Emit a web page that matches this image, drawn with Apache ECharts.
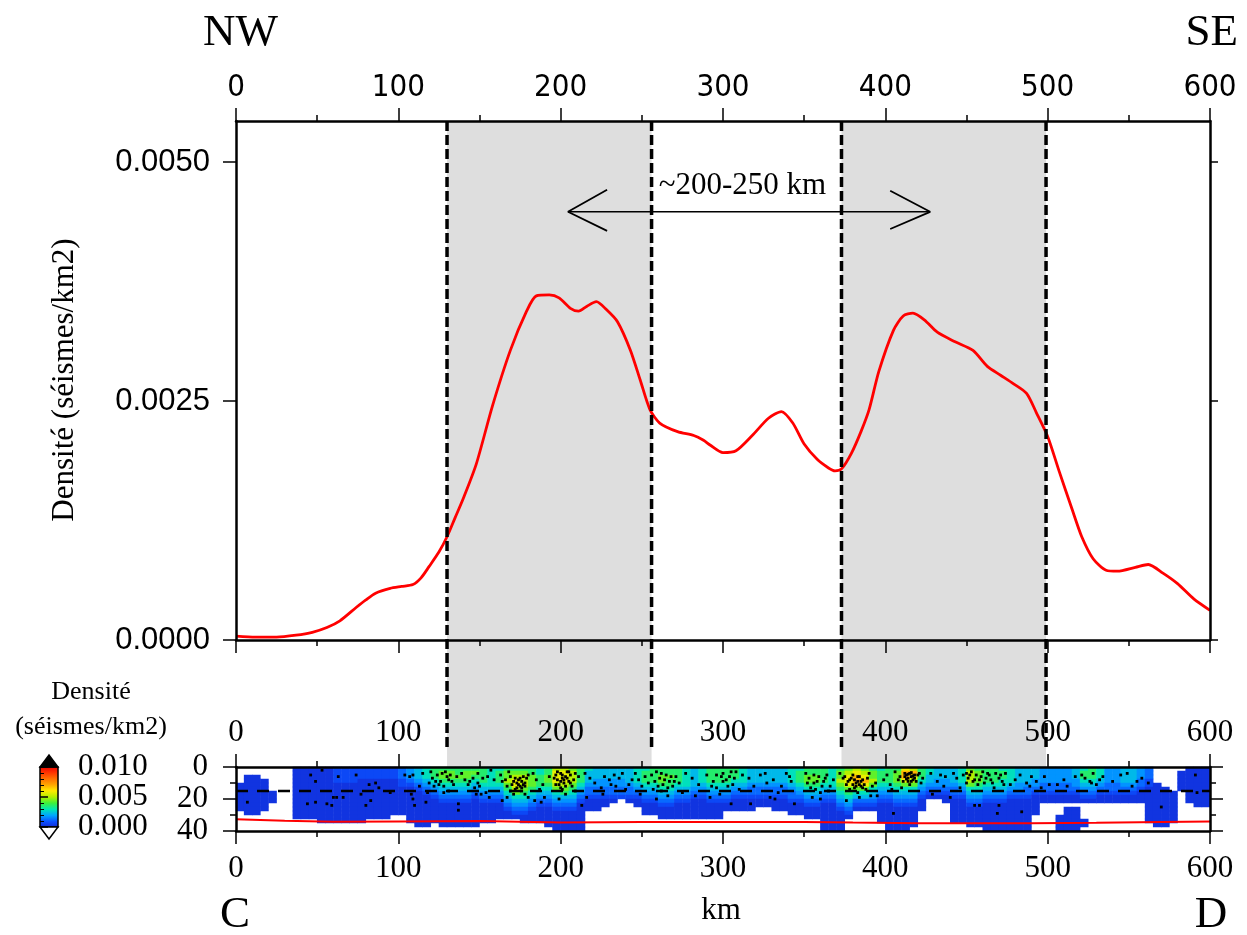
<!DOCTYPE html>
<html><head><meta charset="utf-8">
<script src="https://cdn.jsdelivr.net/npm/echarts@6/dist/echarts.min.js"></script>
<style>html,body{margin:0;padding:0;background:#fff}#c{width:1247px;height:935px}</style>
</head><body><div id="c"></div>
<script>
// ---------------- DATA ----------------
const DIST_KM = [0,12,25,37,47,56,64,74,80,86,95,102,109,114,119,125,130,135,140,148,158,169,179,185,193,199,206,211,216,222,228,235,243,249,255,261,272,282,288,292,300,308,318,328,336,343,350,358,365,369,373,379,385,390,396,405,411,417,424,432,443,454,463,471,479,487,493,500,507,515,521,528,536,543,554,562,571,580,590,600];
const DENSITY = [0.00004,0.00003,0.00003,0.00005,0.00008,0.00013,0.0002,0.00034,0.00042,0.00049,0.00054,0.00056,0.00058,0.00065,0.00077,0.00092,0.00108,0.00128,0.00148,0.00184,0.00245,0.00303,0.00344,0.0036,0.00361,0.00358,0.00347,0.00344,0.00349,0.00354,0.00346,0.00333,0.00303,0.00272,0.00241,0.00227,0.00218,0.00214,0.00209,0.00204,0.00196,0.00198,0.00214,0.00232,0.00239,0.00227,0.00205,0.00189,0.0018,0.00177,0.00179,0.00195,0.00218,0.00241,0.00281,0.00324,0.00339,0.00342,0.00335,0.00322,0.00312,0.00303,0.00286,0.00277,0.00268,0.00258,0.00238,0.00213,0.00177,0.00137,0.00108,0.00085,0.00073,0.00072,0.00076,0.00079,0.0007,0.00059,0.00043,0.00031];
const X_TICKS = [0,100,200,300,400,500,600];
const Y_TICKS = [0,0.0025,0.005];
const DEPTH_TICKS = [0,20,40];
const BANDS = [[130,256],[373,499]];
const BAND_EDGES = [130,256,373,499];
const ARROW_SHAFT = [[204.5,0.00448],[427.6,0.00448]];
const ARROW_LEFT_HEAD = [[228.6,0.00471],[204.5,0.00448],[228.6,0.00428]];
const ARROW_RIGHT_HEAD = [[403,0.0047],[427.6,0.00448],[403,0.0043]];
const ARROW_LABEL = [[312,0.00475,'~200-250 km']];
const MOHO_KM = [0,30,60,100,150,200,250,300,350,380,420,450,490,530,570,600];
const MOHO_DEPTH = [32.6,33.6,34.2,34.0,33.8,34.7,34.3,34.3,34.3,34.7,35.1,35.1,35.1,34.9,34.3,34.0];
const MID_LINE = [[0,15],[600,15]];
const EQ_POINTS = [
[46,5],[49,9],[53,2],[63,6],[74,5],[82,11],[86,10],[88,13],[95,16],[7,22],[44,23],[49,22],[56,23],[60,19],[62,19],[66,19],[59,24],[80,24],[83,21],[77,17],[104,5],[107,6],[109,5],[113,12],[115,4],[119,10],[121,7],[122,12],[124,5],[126,9],[127,4],[128,12],[130,6],[131,15],[132,5],[133,9],[128,16],[118,16],[109,20],[110,24],[117,22],[137,23],[137,27],[143,11],[144,9],[146,7],[147,13],[149,10],[148,17],[108,17],
[149,4],[152,7],[155,6],[150,12],[154,16],[157,2],[159,8],[156,19],[151,17],
[163,5],[166,8],[168,3],[170,11],[172,7],[173,10],[175,12],[176,9],[177,11],[178,10],[179,7],[173,13],[176,15],[171,17],[167,19],[164,21],[178,17],[180,5],[180,19],
[183,4],[185,8],[187,14],[189,11],[190,19],[193,6],[184,21],[188,22],
[197,5],[198,8],[199,11],[200,4],[201,7],[202,10],[203,6],[204,3],[205,9],[206,5],[207,12],[201,14],[203,17],[199,20],[209,4],[208,8],
[211,6],[215,4],[218,7],[221,10],[225,13],[230,8],[233,5],[236,7],[240,14],[213,24],[226,17],[242,11],[209,15],[216,19],[234,12],
[246,4],[248,8],[250,12],[252,6],[254,10],[257,14],[259,3],[261,7],[263,11],[265,5],[267,9],[269,12],[271,6],[273,10],[275,16],[259,20],[266,18],[249,17],[277,4],
[281,7],[285,11],[290,5],[294,9],[296,13],[298,17],[292,19],[283,18],[299,6],
[300,4],[302,8],[304,6],[306,11],[308,3],[310,14],[305,23],
[312,5],[316,7],[319,12],[323,5],[327,10],[329,19],[332,20],[334,16],[339,4],[342,9],[344,23],[317,23],
[351,4],[353,7],[356,10],[357,14],[359,6],[360,16],[362,9],[364,5],[366,12],[368,8],[355,19],[360,20],
[372,4],[374,7],[376,11],[378,8],[380,5],[381,13],[382,10],[383,16],[384,6],[385,12],[386,8],[388,14],[390,4],[391,18],[394,10],[395,18],[376,21],[384,19],[382,12],[384,11],[386,13],[383,9],[380,11],
[399,8],[401,5],[403,11],[404,14],[406,3],[409,6],[412,4],[413,5],[414,7],[415,4],[416,6],[417,8],[418,5],[419,9],[421,4],[423,7],[405,29],[415,11],[410,13],[414,4.5],[416,3.5],[417,5.5],[413,7.5],
[428,4],[434,5],[437,6],[442,4],[446,13],[450,10],[429,17],[440,19],
[450,4],[451,7],[453,3],[454,9],[456,5],[458,8],[460,3],[462,7],[464,5],[466,10],[468,4],[470,7],[472,9],[474,4],[455,24],[458,24],[469,29],[470,24],
[477,11],[484,28],[487,10],[489,12],[490,6],
[521,5],[523,7],[526,9],[528,4],[530,11],[532,8],[527,10],
[545,5],[549,4],[555,9],[552,12],
[498,6],[501,11],[506,11],[510,8],[512,12],[570,25],[591,5],[592,16],
[120,3],[123,9],[125,11],[129,3],[131,8],[134,11],[136,6],[139,4],[141,8],
[164,9],[167,12],[169,6],[171,9],[174,8],[174,11],[175,7],[176,13],[177,6],[178,12],[172,14],[169,15],
[196,7],[198,3],[200,9],[201,5],[202,8],[203,12],[204,7],[205,3],[206,10],[200,13],[197,11],
[256,5],[258,9],[260,12],[262,4],[264,8],[266,13],[268,6],[270,9],[262,15],
[352,10],[354,13],[356,5],[358,9],[361,12],[363,7],[365,15],
[375,6],[377,9],[379,7],[381,8],[383,6],[385,9],[387,11],[389,7],[392,12],[378,14],
[408,8],[411,9],[412,6],[414,9],[416,9],[418,7],[420,5],[422,10],
[452,5],[455,8],[457,11],[459,6],[461,10],[463,4],[465,8],[467,13],[471,5],[473,11],
[300,9],[303,12],[305,3],[307,7],[296,5],[293,12],
[227,6],[238,4],[244,8],[231,11],
[326,4],[331,8],[336,12],[341,6],
[432,9],[436,12],[444,7],[448,5],
[480,8],[483,5],[493,9],[496,13],[517,6],[534,6],[540,9],[558,7],[562,10]
];
// density grid: one string per 5 km column, one character per 2.5 km depth row ('.' = no data)
const CELL_KM = 5;
const CELL_DEPTH = 2.5;
const LEVEL_CHARS = '0123456789a';
const LEVEL_VALUES = [0.0003,0.0008,0.0013,0.0018,0.0023,0.0029,0.0036,0.0043,0.0050,0.0057,0.0068];
const DENSITY_COLUMNS = [
"....0000000.....","..0000000000....","..0000000000....","...00000000.....","......000.......",
"................","................","0000000000000...","0000000000000...","0000000000000...",
"00000000000000..","00000000000000..","11110000000000..","11110000000000..","11110000000000..",
"11100000000000..","1110000000000...","1110000000000...","1110000000000...","111000000000....",
"222110000000....","33321000000000..","444321000000000.","555432100000000.","66654321000000..",
"677654321000000.","677654321000000.","667654321000000.","677654321000000.","676543210000000.",
"66665432100000..","55555432100000..","5666543210000...","6778765432100...","6789987543210...",
"67888765432100..","66777654321000..","55666543210000..","667765432100000.","8999875432100000",
"8999876432100000","7888765432100000","6666543210000000","54443221000.....","44433221000.....",
"4443322100......","444332210.......","44433221........","444432210.......","5555432100......",
"566654321000....","666654321000....","6677654321000...","6676654321000...","6666543210000...",
"5555543210000...","4444432100000...","5555432100000...","6666543210000...","6666543210000...",
"66665432100.....","66654321000.....","55554321000.....","44443221000.....","4444322100......",
"4444322100......","44443221000.....","44443221000.....","555543221000....","566654321000....",
"6677654321000...","6677654321000...","6666543210000000","5555543210000000","6778765432100000",
"7899976543210...","89aa9754210.....","789a9754210.....","67787543210.....","56665432100000..",
"6666543210000000","6777654321000000","9aa9754321000000","8a9875432100000.","66654321000.....",
"55443210........","44433210........","444332100.......","44443221000000..","55554321000000..",
"788875432100000.","677765432100000.","6666543210000000","6666543210000000","5665543210000000",
"5555432100000000","4444332100000000","4444322100000000","444332100000....","333322100.......",
"333322100.......","333322100...0000","333322100.000000","444332100.000000","566543210....00.",
"666543210.......","555432100.......","333322100.......","333322100.......","444432100.......",
"444432100.......","333221000.......","22211000000000..","....00000000000.",".....0000000000.",
"......00000000..",".00000..........","000000000.......","0000000000......","0000000000......"
];
const COLOR_STOPS = [[0,'#1428d2'],[0.001,'#0a50ff'],[0.002,'#00a5ff'],[0.003,'#00e6b4'],[0.004,'#3cf03c'],[0.005,'#b4f000'],[0.006,'#ffeb00'],[0.007,'#ffa500'],[0.008,'#ff6e00'],[0.009,'#ff3200'],[0.010,'#eb0000']];
const CBAR_TICKS = [0,0.005,0.01];
const CBAR_END_LABELS = [0,0.01];
const CBAR_MID_LABELS = [0.005];

// ---------------- BUILD ----------------
const SERIF = '"Liberation Serif","Times New Roman",serif';
const SANS = '"Liberation Sans",Arial,sans-serif';
const NARROW = '"Liberation Sans Narrow","DejaVu Sans Condensed","Liberation Sans",sans-serif';

const curve = DIST_KM.map((k,i)=>[k,DENSITY[i]]);
const moho = MOHO_KM.map((k,i)=>[k,MOHO_DEPTH[i]]);
const heatData = [];
DENSITY_COLUMNS.forEach((col,i)=>{
  for (let r=0;r<col.length;r++){
    const ch = col[r];
    if (ch==='.') continue;
    heatData.push([i,r,LEVEL_VALUES[LEVEL_CHARS.indexOf(ch)]]);
  }
});
const colCats = DENSITY_COLUMNS.map((c,i)=>String(i*CELL_KM+CELL_KM/2));
const rowCats = Array.from({length:16},(_,r)=>String(r*CELL_DEPTH+CELL_DEPTH/2));

const LINE = {color:'#000',width:2.5};
const TICK = {color:'#000',width:1.5};
function axis(o){
  return Object.assign({
    type:'value', min:0, max:600, interval:100, z:5,
    axisLine:{show:true,onZero:false,lineStyle:LINE},
    axisTick:{show:true,length:13,lineStyle:TICK},
    minorTick:{show:true,splitNumber:2,length:6,lineStyle:TICK},
    splitLine:{show:false}, minorSplitLine:{show:false},
    axisLabel:{show:false}
  }, o);
}
const CBAR_LABEL = {show:true, margin:20, fontSize:31, lineHeight:20, fontFamily:SERIF, color:'#000',
  showMinLabel:true, showMaxLabel:true, formatter:v=>v.toFixed(3)};

const chart = echarts.init(document.getElementById('c'), null, {renderer:'canvas'});
chart.setOption({
  animation:false,
  backgroundColor:'#fff',
  grid:[
    {left:236, top:121, width:974, height:519},
    {left:236, top:767, width:974, height:64},
    {left:236, top:121, width:974, height:646},
    {left:236, top:767, width:974, height:64},
    {left:40, top:767, width:18, height:60}
  ],
  xAxis:[
    axis({gridIndex:0, position:'top', axisLabel:{show:true, margin:18, fontSize:31, fontFamily:NARROW, color:'#000'}}),
    axis({gridIndex:0, position:'bottom'}),
    axis({gridIndex:1, position:'top', axisLabel:{show:true, margin:19, fontSize:31, fontFamily:SERIF, color:'#000'}}),
    axis({gridIndex:1, position:'bottom', axisLabel:{show:true, margin:22, fontSize:31, fontFamily:SERIF, color:'#000'}}),
    {gridIndex:2, type:'value', min:0, max:600, show:false},
    {gridIndex:3, type:'category', data:colCats, show:false},
    {gridIndex:4, type:'value', min:0, max:1, show:false}
  ],
  yAxis:[
    axis({gridIndex:0, position:'left', min:0, max:0.00543, interval:0.0025,
      minorTick:{show:false},
      axisTick:{show:true,length:13,lineStyle:TICK,customValues:Y_TICKS},
      axisLabel:{show:true, margin:26, fontSize:31, fontFamily:SANS, color:'#000', customValues:Y_TICKS, formatter:v=>v.toFixed(4)}}),
    axis({gridIndex:0, position:'right', min:0, max:0.00543, interval:0.0025,
      minorTick:{show:false},
      axisTick:{show:true,length:8,lineStyle:TICK,customValues:Y_TICKS}}),
    axis({gridIndex:1, position:'left', min:0, max:40, interval:20, inverse:true,
      axisLabel:{show:true, margin:28, fontSize:31, lineHeight:20, fontFamily:SERIF, color:'#000', customValues:DEPTH_TICKS,
        showMinLabel:true, showMaxLabel:true}}),
    axis({gridIndex:1, position:'right', min:0, max:40, interval:20, inverse:true}),
    {gridIndex:2, type:'value', min:0, max:1, show:false},
    {gridIndex:3, type:'category', data:rowCats, inverse:true, show:false},
    axis({gridIndex:4, position:'right', min:0, max:0.01, interval:0.005,
      axisLine:{show:false},
      axisTick:{show:true,length:8,lineStyle:TICK,customValues:CBAR_TICKS},
      minorTick:{show:true,splitNumber:5,length:4,lineStyle:{color:'#000',width:1}},
      axisLabel:Object.assign({customValues:CBAR_END_LABELS}, CBAR_LABEL)}),
    axis({gridIndex:4, position:'right', min:0, max:0.01, interval:0.005,
      axisLine:{show:false}, axisTick:{show:false}, minorTick:{show:false},
      axisLabel:Object.assign({customValues:CBAR_MID_LABELS}, CBAR_LABEL)})
  ],
  visualMap:[{type:'continuous', show:false, min:0, max:0.01, seriesIndex:7,
    inRange:{color:COLOR_STOPS.map(s=>s[1])}}],
  series:[
    {type:'line', xAxisIndex:0, yAxisIndex:0, data:curve, smooth:0.25, symbol:'none', z:3,
      lineStyle:{color:'#ff0000', width:2.8}},
    {type:'line', xAxisIndex:0, yAxisIndex:0, data:ARROW_SHAFT, symbol:'none', z:3,
      lineStyle:{color:'#000', width:1.5}},
    {type:'line', xAxisIndex:0, yAxisIndex:0, data:ARROW_LEFT_HEAD, symbol:'none', z:3,
      lineStyle:{color:'#000', width:1.8}},
    {type:'line', xAxisIndex:0, yAxisIndex:0, data:ARROW_RIGHT_HEAD, symbol:'none', z:3,
      lineStyle:{color:'#000', width:1.8}},
    {type:'scatter', xAxisIndex:0, yAxisIndex:0, data:ARROW_LABEL, symbolSize:0, z:4,
      itemStyle:{opacity:1},
      label:{show:true, position:'inside', formatter:p=>p.data[2], fontSize:31, fontFamily:SERIF, color:'#000', opacity:1}},
    {type:'custom', xAxisIndex:4, yAxisIndex:4, data:BANDS, z:1, silent:true,
      renderItem:(params, api)=>{
        const a = api.coord([api.value(0),1]);
        const b = api.coord([api.value(1),0]);
        return {type:'rect', shape:{x:a[0], y:a[1], width:b[0]-a[0], height:b[1]-a[1]}, style:{fill:'#dedede'}};
      }},
    {type:'custom', xAxisIndex:4, yAxisIndex:4, data:BAND_EDGES.map(v=>[v]), z:10, silent:true,
      renderItem:(params, api)=>{
        const a = api.coord([api.value(0),1]);
        const b = api.coord([api.value(0),0.025]);
        return {type:'line', shape:{x1:a[0], y1:a[1], x2:b[0], y2:b[1]}, style:{stroke:'#000', lineWidth:3.5, lineDash:[10,4]}};
      }},
    {type:'heatmap', xAxisIndex:5, yAxisIndex:5, data:heatData, z:2, progressive:0,
      itemStyle:{borderWidth:0}},
    {type:'line', xAxisIndex:3, yAxisIndex:2, data:moho, symbol:'none', z:4,
      lineStyle:{color:'#ff0000', width:2}},
    {type:'line', xAxisIndex:3, yAxisIndex:2, data:MID_LINE, symbol:'none', z:4,
      lineStyle:{color:'#000', width:2.5, type:[12,9]}},
    {type:'scatter', xAxisIndex:3, yAxisIndex:2, data:EQ_POINTS, symbol:'rect', symbolSize:2.8, z:5,
      itemStyle:{color:'#000', opacity:1}},
    {type:'custom', xAxisIndex:6, yAxisIndex:6, data:[[0]], z:3, silent:true,
      renderItem:(params, api)=>{
        const tl = api.coord([0,0.01]);
        const br = api.coord([1,0]);
        const mid = (tl[0]+br[0])/2;
        const stops = COLOR_STOPS.map(s=>({offset:s[0]/0.01, color:s[1]}));
        return {type:'group', children:[
          {type:'rect', shape:{x:tl[0], y:tl[1], width:br[0]-tl[0], height:br[1]-tl[1]},
            style:{fill:new echarts.graphic.LinearGradient(0,1,0,0,stops), stroke:'#000', lineWidth:1.5}},
          {type:'polygon', shape:{points:[[tl[0],tl[1]],[br[0],tl[1]],[mid,tl[1]-12]]}, style:{fill:'#000', stroke:'#000', lineWidth:1.5}},
          {type:'polygon', shape:{points:[[tl[0],br[1]],[br[0],br[1]],[mid,br[1]+12]]}, style:{fill:'#fff', stroke:'#000', lineWidth:1.5}}
        ]};
      }}
  ],
  graphic:[
    {type:'text', x:203, y:33, style:{text:'NW', fontSize:45, fontFamily:SERIF, fill:'#000', align:'left', verticalAlign:'middle'}},
    {type:'text', x:1238, y:33, style:{text:'SE', fontSize:45, fontFamily:SERIF, fill:'#000', align:'right', verticalAlign:'middle'}},
    {type:'text', x:235, y:915, style:{text:'C', fontSize:45, fontFamily:SERIF, fill:'#000', align:'center', verticalAlign:'middle'}},
    {type:'text', x:1211, y:915, style:{text:'D', fontSize:45, fontFamily:SERIF, fill:'#000', align:'center', verticalAlign:'middle'}},
    {type:'text', x:721, y:911, style:{text:'km', fontSize:31, fontFamily:SERIF, fill:'#000', align:'center', verticalAlign:'middle'}},
    {type:'text', x:65, y:380, rotation:Math.PI/2, style:{text:'Densité (séismes/km2)', fontSize:31, fontFamily:SERIF, fill:'#000', align:'center', verticalAlign:'middle'}},
    {type:'text', x:91, y:692, style:{text:'Densité', fontSize:26, fontFamily:SERIF, fill:'#000', align:'center', verticalAlign:'middle'}},
    {type:'text', x:91, y:727, style:{text:'(séismes/km2)', fontSize:26, fontFamily:SERIF, fill:'#000', align:'center', verticalAlign:'middle'}}
  ]
});
</script></body></html>
